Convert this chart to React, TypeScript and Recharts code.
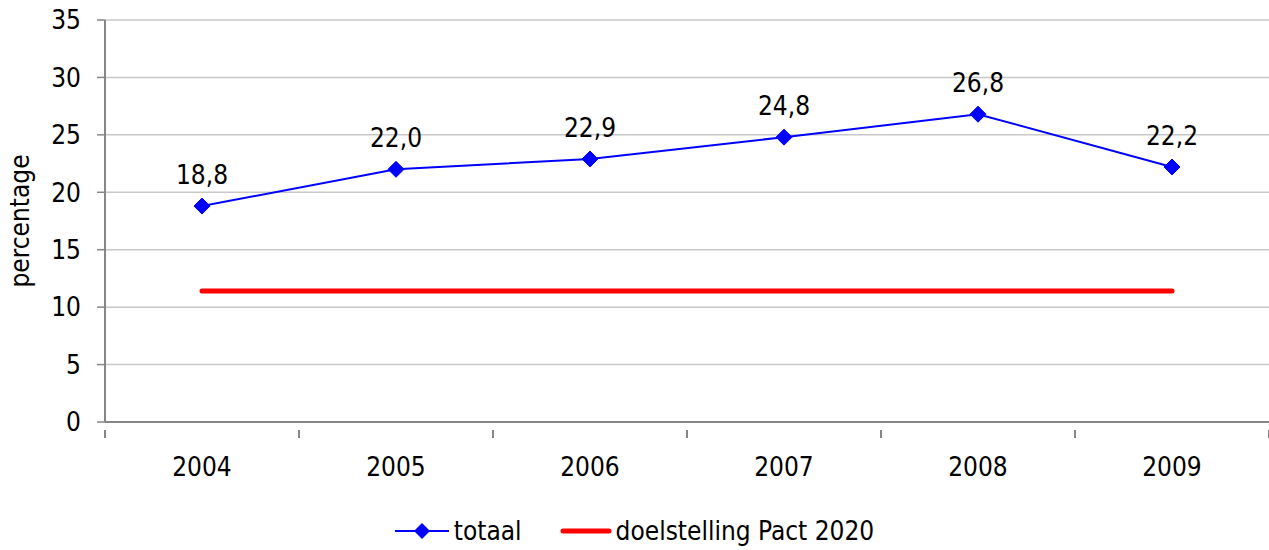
import { LineChart, Line, XAxis, YAxis, CartesianGrid, Legend, LabelList } from 'recharts';

// years on the x axis, in order
const years = ['2004', '2005', '2006', '2007', '2008', '2009'];
// totaal, in percent
const totaal = [18.8, 22.0, 22.9, 24.8, 26.8, 22.2];
// target level Pact 2020
const doelstelling = [11.4, 11.4, 11.4, 11.4, 11.4, 11.4];
const yTicks = [0, 5, 10, 15, 20, 25, 30, 35];

const FONT = "'DejaVu Sans Condensed', 'DejaVu Sans', sans-serif";
const FS = 26;
const AXIS = '#868686';

// numeric x so the tick marks can sit between the years, like the original
const chartData = years.map((y, i) => ({ x: i + 0.5, year: y, totaal: totaal[i], doel: doelstelling[i] }));
const xTicks: number[] = [];
for (let i = 0; i <= years.length; i++) {
  xTicks.push(i);
  if (i < years.length) xTicks.push(i + 0.5);
}

const XTick = (props: any) => {
  const { x, y, payload } = props;
  const v = payload.value as number;
  if (Number.isInteger(v)) {
    return <line x1={x} x2={x} y1={y} y2={y + 8} stroke={AXIS} strokeWidth={2} />;
  }
  return (
    <text x={x} y={y + 46} textAnchor="middle" fontSize={FS} fontFamily={FONT} fill="#000">
      {years[Math.floor(v)]}
    </text>
  );
};

const Diamond = (props: any) => {
  const { cx, cy, index } = props;
  if (cx == null || cy == null) return <g key={index} />;
  const r = 8;
  return (
    <polygon
      key={index}
      points={`${cx},${cy - r} ${cx + r},${cy} ${cx},${cy + r} ${cx - r},${cy}`}
      fill="#0000FF"
      stroke="#0000FF"
    />
  );
};

const fmt = (v: any) => Number(v).toFixed(1).replace('.', ',');

const LegendBox = () => (
  <div
    style={{
      display: 'flex',
      justifyContent: 'center',
      alignItems: 'center',
      fontFamily: FONT,
      fontSize: FS,
      color: '#000',
      paddingTop: 24,
    }}
  >
    <svg width={54} height={20} style={{ marginRight: 5 }}>
      <line x1={0} x2={54} y1={10} y2={10} stroke="#0000FF" strokeWidth={2} />
      <polygon points="27,2 35,10 27,18 19,10" fill="#0000FF" />
    </svg>
    <span>totaal</span>
    <svg width={52} height={20} style={{ marginLeft: 38, marginRight: 4 }}>
      <line x1={3} x2={49} y1={10} y2={10} stroke="#FF0000" strokeWidth={5} strokeLinecap="round" />
    </svg>
    <span>doelstelling Pact 2020</span>
  </div>
);

export default function App() {
  return (
    <div style={{ position: 'absolute', left: 0, top: 0, background: '#fff' }}>
      <LineChart width={1269} height={550} data={chartData} margin={{ top: 20, right: 0, bottom: 0, left: 0 }}>
        <CartesianGrid vertical={false} stroke="#c8c8c8" strokeWidth={1.5} />
        <XAxis
          dataKey="x"
          type="number"
          domain={[0, years.length]}
          ticks={xTicks}
          interval={0}
          height={70}
          tickLine={false}
          axisLine={{ stroke: AXIS, strokeWidth: 2 }}
          tick={<XTick />}
        />
        <YAxis
          domain={[0, 35]}
          ticks={yTicks}
          interval={0}
          width={105}
          tickSize={8}
          tickMargin={16}
          axisLine={{ stroke: AXIS, strokeWidth: 2 }}
          tickLine={{ stroke: AXIS, strokeWidth: 1.5 }}
          tick={{ fontSize: FS, fontFamily: FONT, fill: '#000' }}
          label={{
            value: 'percentage',
            angle: -90,
            position: 'insideLeft',
            offset: 20,
            style: { fontSize: FS, fontFamily: FONT, fill: '#000', textAnchor: 'middle' },
          }}
        />
        <Legend verticalAlign="bottom" height={58} content={<LegendBox />} />
        <Line
          dataKey="doel"
          stroke="#FF0000"
          strokeWidth={5}
          strokeLinecap="round"
          dot={false}
          activeDot={false}
          isAnimationActive={false}
        />
        <Line
          dataKey="totaal"
          stroke="#0000FF"
          strokeWidth={2}
          dot={<Diamond />}
          activeDot={false}
          isAnimationActive={false}
        >
          <LabelList
            dataKey="totaal"
            position="top"
            offset={22}
            formatter={fmt}
            style={{ fontSize: FS, fontFamily: FONT, fill: '#000' }}
          />
        </Line>
      </LineChart>
    </div>
  );
}
